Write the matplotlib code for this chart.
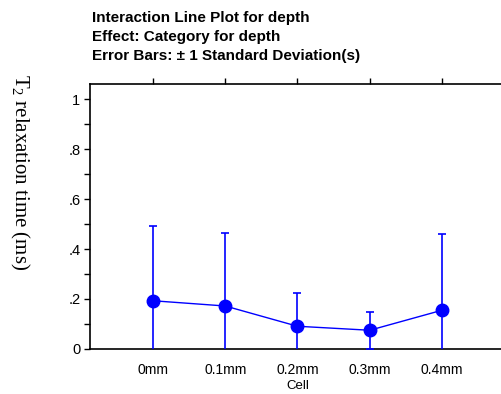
import matplotlib
matplotlib.use("Agg")
import matplotlib.pyplot as plt
from matplotlib.ticker import MultipleLocator, FixedLocator

plt.rcParams["mathtext.fontset"] = "custom"
plt.rcParams["mathtext.rm"] = "Liberation Serif"
plt.rcParams["mathtext.it"] = "Liberation Serif:italic"

categories = ["0mm", "0.1mm", "0.2mm", "0.3mm", "0.4mm"]
means = [0.193, 0.172, 0.091, 0.075, 0.155]
sds = [0.300, 0.293, 0.133, 0.074, 0.304]
ytick_vals = [0, 0.2, 0.4, 0.6, 0.8, 1.0]
ytick_labels = ["0", ".2", ".4", ".6", ".8", "1"]

W, H = 501, 394
fig = plt.figure(figsize=(W / 100, H / 100), dpi=100)
ax = fig.add_axes([90 / W, (H - 349) / H, (W - 90) / W, (349 - 84) / H])

x = list(range(len(categories)))
blue = "#0000ff"
ax.errorbar(x, means, yerr=sds, color=blue, lw=1.0, elinewidth=1.2,
            capsize=3, capthick=1.2, marker="o", ms=9, mec=blue, mfc=blue,
            clip_on=True, zorder=3)

ax.set_xlim(-0.872, 4.817)
ax.set_ylim(0, 1.06)

sans = "Liberation Sans"
ax.xaxis.set_major_locator(FixedLocator(x))
ax.set_xticklabels(categories, fontsize=10, family=sans)
ax.tick_params(axis="x", bottom=False, top=True, labeltop=False,
               direction="out", length=4, width=1, pad=6)
ax.set_yticks(ytick_vals)
ax.set_yticklabels(ytick_labels, fontsize=10.5, family=sans)
ax.yaxis.set_minor_locator(MultipleLocator(0.1))
ax.tick_params(axis="y", which="both", direction="out", length=4, width=1, pad=3)

for side in ("left", "bottom", "top"):
    ax.spines[side].set_linewidth(1.2)
ax.spines["right"].set_visible(False)

fig.text(ax.transData.transform((2, 0))[0] / W, 1 - 386 / H, "Cell",
         fontsize=9.5, family=sans, va="center", ha="center")

title_lines = [
    "Interaction Line Plot for depth",
    "Effect: Category for depth",
    "Error Bars: \u00b1 1 Standard Deviation(s)",
]
for i, line in enumerate(title_lines):
    fig.text(92 / W, 1 - (18 + 19 * i) / H, line, fontsize=11,
             fontweight="bold", family=sans, va="center", ha="left")

fig.text(20 / W, 1 - 172 / H, r"T$_2$ relaxation time (ms)", rotation=270,
         fontsize=15, family="Liberation Serif", va="center", ha="center")

fig.savefig("out.png", dpi=100)
